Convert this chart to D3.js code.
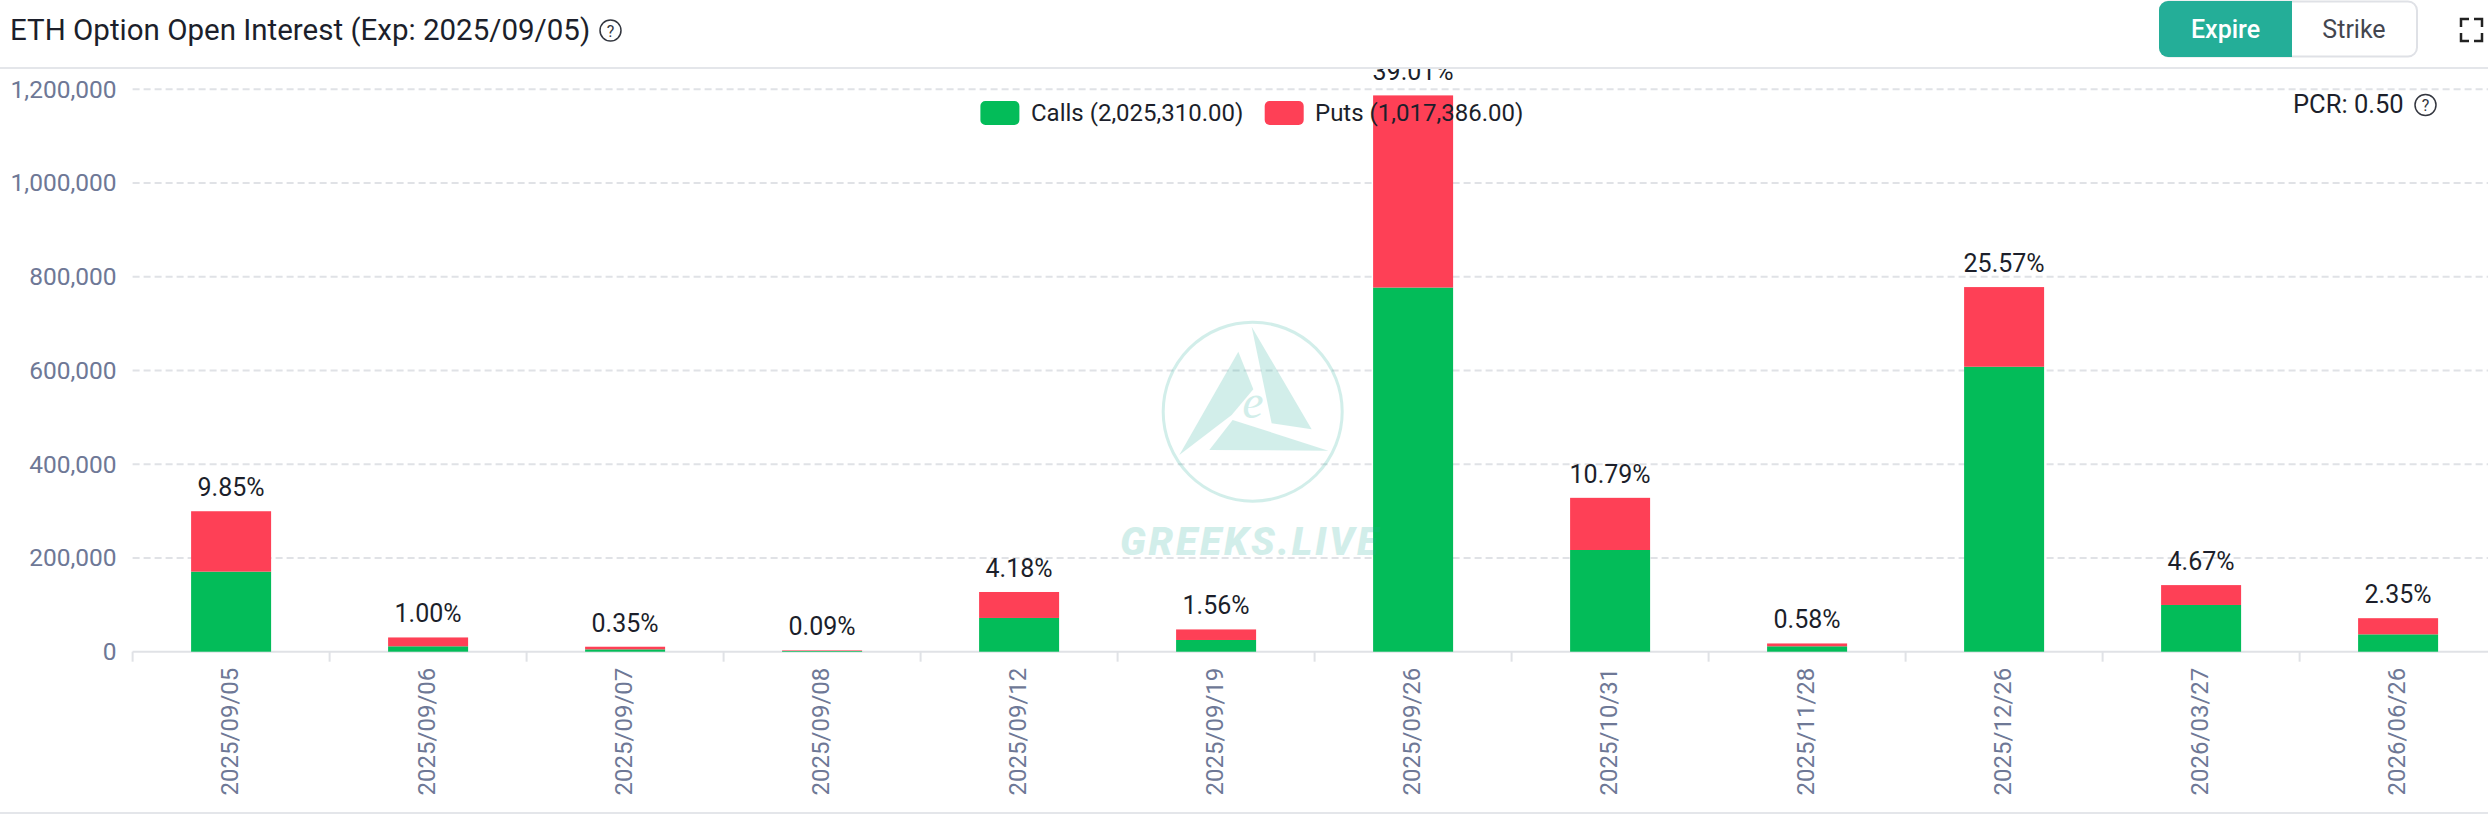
<!DOCTYPE html>
<meta charset="utf-8">
<script src="https://d3js.org/d3.v7.min.js"></script>
<style>
  html, body { margin: 0; background: #fff; overflow: hidden; }
  svg { display: block; }
  text { font-family: Roboto, sans-serif; }
</style>
<div id="my_dataviz"></div>

<script>

// data
var expiries = ["2025/09/05", "2025/09/06", "2025/09/07", "2025/09/08", "2025/09/12", "2025/09/19",
                "2025/09/26", "2025/10/31", "2025/11/28", "2025/12/26", "2026/03/27", "2026/06/26"];
var calls = [170800, 11500, 5000, 1500, 72000, 25000, 777000, 217000, 11500, 608000, 99700, 37000];
var puts = [128900, 18900, 5600, 1200, 55400, 22500, 410000, 111300, 6100, 170000, 42400, 34500];
var shares = ["9.85%", "1.00%", "0.35%", "0.09%", "4.18%", "1.56%", "39.01%", "10.79%", "0.58%", "25.57%", "4.67%", "2.35%"];
var yTicks = [0, 200000, 400000, 600000, 800000, 1000000, 1200000];

var chartTitle = "ETH Option Open Interest (Exp: 2025/09/05)";
var callsLabel = "Calls (2,025,310.00)";
var putsLabel = "Puts (1,017,386.00)";
var pcrLabel = "PCR: 0.50";

var width = 2488, height = 814;
var green = "#03bc59", red = "#fe4056", axisGrey = "#e0e2e6", tickGrey = "#6e7896", ink = "#1c1f2b";

var svg = d3.select("#my_dataviz").append("svg")
    .attr("width", width)
    .attr("height", height);

var left = 132.6, step = 197;

var x = d3.scaleBand()
  .domain(expiries)
  .range([left, left + step * expiries.length])
  .paddingInner(117 / 197)
  .paddingOuter(117 / 197 / 2);

var y = d3.scaleLinear()
  .domain([0, 1200000])
  .range([651.7, 89.3]);

// GRID LINES
svg.append("g").selectAll("line")
  .data(yTicks.slice(1))
  .join("line")
    .attr("x1", left)
    .attr("x2", width)
    .attr("y1", d => y(d))
    .attr("y2", d => y(d))
    .attr("stroke", axisGrey)
    .attr("stroke-width", 2)
    .attr("stroke-dasharray", "7,4");

// Y AXIS
var yAxis = svg.append("g")
  .attr("transform", "translate(" + left + ",0)")
  .call(d3.axisLeft(y).tickValues(yTicks).tickSize(0).tickPadding(16).tickFormat(d3.format(",")));
yAxis.select(".domain").remove();
yAxis.selectAll("text")
  .attr("fill", tickGrey)
  .style("font-size", "24.5px");

// X AXIS
var xAxis = svg.append("g")
  .attr("transform", "translate(0," + y(0) + ")")
  .call(d3.axisBottom(x).tickSize(0));
xAxis.select(".domain").remove();
xAxis.selectAll("text")
  .attr("fill", tickGrey)
  .style("font-size", "24px")
  .style("text-anchor", "end")
  .attr("transform", "translate(-2,16) rotate(-90)")
  .attr("x", 0)
  .attr("y", 0)
  .attr("dy", "0.35em");

svg.append("line")
  .attr("x1", left)
  .attr("x2", width)
  .attr("y1", y(0))
  .attr("y2", y(0))
  .attr("stroke", axisGrey)
  .attr("stroke-width", 2);

// tick marks sit between the bands
svg.append("g").selectAll("line")
  .data(expiries)
  .join("line")
    .attr("x1", d => x(d) - x.step() * x.paddingInner() / 2)
    .attr("x2", d => x(d) - x.step() * x.paddingInner() / 2)
    .attr("y1", y(0))
    .attr("y2", y(0) + 10)
    .attr("stroke", axisGrey)
    .attr("stroke-width", 2);

// BARS
svg.append("g").selectAll("rect")
  .data(expiries)
  .join("rect")
    .attr("x", d => x(d))
    .attr("width", x.bandwidth())
    .attr("y", (d, i) => y(calls[i]))
    .attr("height", (d, i) => y(0) - y(calls[i]))
    .attr("fill", green);

svg.append("g").selectAll("rect")
  .data(expiries)
  .join("rect")
    .attr("x", d => x(d))
    .attr("width", x.bandwidth())
    .attr("y", (d, i) => y(calls[i] + puts[i]))
    .attr("height", (d, i) => y(calls[i]) - y(calls[i] + puts[i]))
    .attr("fill", red);

// PERCENT LABELS
svg.append("g").selectAll("text")
  .data(expiries)
  .join("text")
    .attr("x", d => x(d) + x.bandwidth() / 2)
    .attr("y", (d, i) => y(calls[i] + puts[i]) - 15)
    .attr("text-anchor", "middle")
    .attr("fill", ink)
    .style("font-size", "25px")
    .text((d, i) => shares[i]);

// WATERMARK
var mark = svg.append("g")
  .attr("fill", "#24ae98")
  .attr("opacity", 0.2);
mark.append("circle")
  .attr("cx", 1252.7)
  .attr("cy", 411.7)
  .attr("r", 89.5)
  .attr("fill", "none")
  .attr("stroke", "#24ae98")
  .attr("stroke-width", 3);
mark.append("g")
  .attr("transform", "translate(1100,300) scale(0.3333)")
  .selectAll("path")
  .data(["M415,155L460,268L395,345L238,465Z", "M455,80L635,388L515,370L480,200Z", "M398,360L685,452L328,450Z"])
  .join("path")
    .attr("d", d => d);
mark.append("text")
  .attr("x", 1253)
  .attr("y", 418)
  .attr("text-anchor", "middle")
  .style("font-family", "'Liberation Serif', serif")
  .style("font-style", "italic")
  .style("font-size", "48px")
  .text("e");
mark.append("text")
  .attr("x", 1120)
  .attr("y", 555)
  .style("font-weight", 900)
  .style("font-style", "italic")
  .style("font-size", "39px")
  .style("letter-spacing", "2.8px")
  .text("GREEKS.LIVE");

// HEADER, covers the top of the tallest label
svg.append("rect")
  .attr("width", width)
  .attr("height", 68)
  .attr("fill", "#fff");
svg.append("line")
  .attr("x1", 0).attr("x2", width)
  .attr("y1", 68).attr("y2", 68)
  .attr("stroke", "#e4e6ea")
  .attr("stroke-width", 2);
svg.append("line")
  .attr("x1", 0).attr("x2", width)
  .attr("y1", 813).attr("y2", 813)
  .attr("stroke", "#e4e6ea")
  .attr("stroke-width", 2);

svg.append("text")
  .attr("x", 10)
  .attr("y", 40)
  .attr("fill", ink)
  .style("font-size", "29.5px")
  .text(chartTitle);

function helpIcon(cx, cy) {
  svg.append("circle")
    .attr("cx", cx).attr("cy", cy).attr("r", 10.5)
    .attr("fill", "none")
    .attr("stroke", "#33363f")
    .attr("stroke-width", 1.5);
  svg.append("text")
    .attr("x", cx).attr("y", cy + 6)
    .attr("text-anchor", "middle")
    .attr("fill", "#33363f")
    .style("font-size", "16px")
    .text("?");
}
helpIcon(610.5, 30.5);

// BUTTONS
svg.append("rect")
  .attr("x", 2160).attr("y", 1.5)
  .attr("width", 257).attr("height", 55)
  .attr("rx", 9)
  .attr("fill", "#fff")
  .attr("stroke", "#dfe1e6")
  .attr("stroke-width", 2);
svg.append("path")
  .attr("d", "M2292,1H2168a9,9 0 0 0 -9,9V48a9,9 0 0 0 9,9H2292Z")
  .attr("fill", "#24ae98");
svg.append("text")
  .attr("x", 2225.5).attr("y", 38)
  .attr("text-anchor", "middle")
  .attr("fill", "#fff")
  .style("font-size", "25px")
  .style("font-weight", 500)
  .text("Expire");
svg.append("text")
  .attr("x", 2354).attr("y", 38)
  .attr("text-anchor", "middle")
  .attr("fill", "#43464f")
  .style("font-size", "25px")
  .text("Strike");
svg.append("path")
  .attr("d", "M2461,27V19H2469M2474,19H2482V27M2482,33V41H2474M2469,41H2461V33")
  .attr("fill", "none")
  .attr("stroke", "#222")
  .attr("stroke-width", 2.5);

// LEGEND, on top of the bars
svg.append("rect")
  .attr("x", 980.4).attr("y", 101)
  .attr("width", 39).attr("height", 24)
  .attr("rx", 5)
  .attr("fill", green);
svg.append("text")
  .attr("x", 1031).attr("y", 120.5)
  .attr("fill", ink)
  .style("font-size", "24px")
  .text(callsLabel);
svg.append("rect")
  .attr("x", 1264.7).attr("y", 101)
  .attr("width", 39).attr("height", 24)
  .attr("rx", 5)
  .attr("fill", red);
svg.append("text")
  .attr("x", 1315).attr("y", 120.5)
  .attr("fill", ink)
  .style("font-size", "24px")
  .text(putsLabel);

svg.append("text")
  .attr("x", 2293).attr("y", 113)
  .attr("fill", ink)
  .style("font-size", "25.5px")
  .text(pcrLabel);
helpIcon(2425.5, 105);

</script>
